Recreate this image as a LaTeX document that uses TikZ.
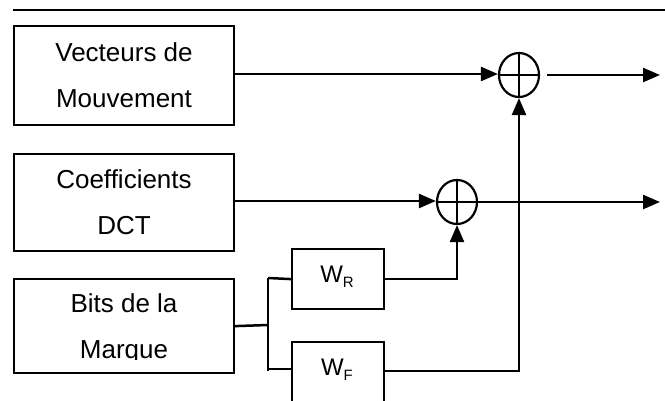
\documentclass[tikz,border=0pt]{standalone}
\usepackage{fontspec}
\setmainfont{Liberation Sans}
\usetikzlibrary{arrows.meta,shapes.geometric}
\begin{document}
\begin{tikzpicture}[x=1pt,y=-1pt,
  line width=2.5pt,
  boxst/.style={draw,line width=2.2pt,inner sep=0pt,anchor=north west},
  lbl/.style={anchor=base,inner sep=0pt,font=\fontsize{26}{30}\selectfont},
  wlbl/.style={anchor=base,inner sep=0pt,font=\fontsize{24}{28}\selectfont},
  sumst/.style={draw,ellipse,line width=2.2pt,minimum width=40pt,minimum height=44pt,inner sep=0pt},
  arr/.style={-{Triangle[length=17pt,width=14pt]}}]
\useasboundingbox (0,0) rectangle (665,400);
% top rule
\coordinate (r1) at (13,10);
\coordinate (r2) at (665,10);
\draw (r1) -- (r2);
% boxes
\node[boxst,minimum width=220pt,minimum height=99pt] (b1) at (13,25) {};
\node[boxst,minimum width=220pt,minimum height=97pt] (b2) at (13,153) {};
\node[boxst,minimum width=220pt,minimum height=94pt] (b3) at (13,278) {};
\node[boxst,minimum width=92pt,minimum height=60pt] (wr) at (291,248) {};
\node[boxst,minimum width=92pt,minimum height=62pt] (wf) at (291,341) {};
% texts
\node[lbl] (t1a) at (124,61) {Vecteurs de};
\node[lbl] (t1b) at (124,107) {Mouvement};
\node[lbl] (t2a) at (124,188) {Coefficients};
\node[lbl] (t2b) at (124,234) {DCT};
\node[lbl] (t3a) at (124,312) {Bits de la};
\begin{scope}
\clip (13,278) rectangle (233,359);
\node[lbl] (t3b) at (124,358) {Marque};
\end{scope}
\node[wlbl] (twr) at (337,282) {W{\fontsize{15}{15}\selectfont\raisebox{-5pt}{R}}};
\node[wlbl] (twf) at (337,375) {W{\fontsize{15}{15}\selectfont\raisebox{-5pt}{F}}};
% summing junctions
\node[sumst] (s1) at (519,75) {};
\node[sumst] (s2) at (457,202) {};
\draw[line width=2pt] (s1.north) -- (s1.south) (s1.west) -- (s1.east);
\draw[line width=2pt] (s2.north) -- (s2.south) (s2.west) -- (s2.east);
% outputs
\coordinate (o1s) at (547,75);
\coordinate (o1e) at (660,75);
\coordinate (o2e) at (660,202);
\draw[arr] (o1s) -- (o1e);
\draw[arr] (s2.east) -- (o2e);
% inputs
\draw[arr] (b1.east |- 0,74) -- (s1.west |- 0,74);
\draw[arr] (b2.east |- 0,201) -- (s2.west |- 0,201);
% branch
\coordinate (j) at (268,325);
\coordinate (jt) at (268,278);
\coordinate (jb) at (268,371);
\draw (b3.east) -- (j);
\draw (jt) -- (jb);
\draw (jt) -- (wr.west);
\draw (268,369) -- (wf.west |- 0,369);
\draw[arr] (wr.east) -| (s2.south);
\draw[arr] (wf.east |- 0,371) -| (s1.south);
\end{tikzpicture}
\end{document}
